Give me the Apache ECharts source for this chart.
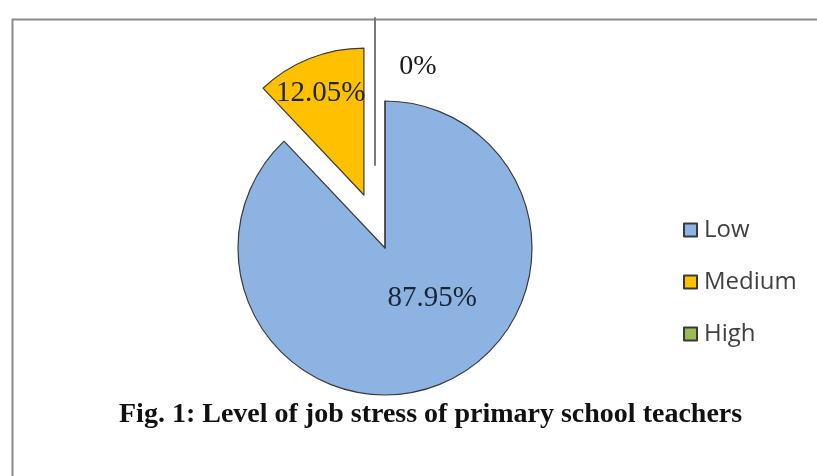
<!DOCTYPE html>
<html>
<head>
<meta charset="utf-8">
<script src="https://cdn.jsdelivr.net/npm/echarts@6/dist/echarts.min.js"></script>
<style>html,body{margin:0;padding:0;background:#fff;}#c{width:817px;height:476px;}</style>
</head>
<body>
<div id="c"></div>
<script>
// ---- data ----
const categories = ['Low', 'Medium', 'High'];
const values = [87.95, 12.05, 0];
const exploded = [false, true, false];
const colors = ['#8DB3E2', '#FFC000', '#9BBB59'];
const titleText = 'Fig. 1: Level of job stress of primary school teachers';

// label nudges (px) relative to the library's inside-label anchor
const mainLabelShift = [[19, -21], [-15, -31], [0, 0]];
const zeroLabelShift = [43, -22];

const chart = echarts.init(document.getElementById('c'));

const mainData = categories.map((n, i) => ({
  name: n,
  value: values[i],
  selected: exploded[i],
  itemStyle: { color: colors[i] },
  label: { show: values[i] > 0 }
}));

const zeroData = categories.map((n, i) => ({
  name: n,
  value: values[i],
  selected: values[i] === 0,
  itemStyle: values[i] === 0
    ? { color: colors[i], borderColor: '#7a7a7a', borderWidth: 2 }
    : { color: 'rgba(0,0,0,0)', borderWidth: 0 },
  label: { show: values[i] === 0 }
}));

const option = {
  animation: false,
  backgroundColor: '#ffffff',
  graphic: [{
    type: 'rect', left: 10, top: 17, z: -1,
    shape: { width: 820, height: 480 },
    style: { fill: 'none', stroke: '#8a8a8a', lineWidth: 2 }
  }],
  title: {
    text: titleText,
    left: 114, top: 396,
    textStyle: { fontFamily: 'Liberation Serif', fontWeight: 'bold', fontSize: 28, color: '#111' }
  },
  legend: {
    orient: 'vertical',
    left: 678, top: 213,
    itemWidth: 13, itemHeight: 13, itemGap: 28,
    icon: 'rect',
    data: categories,
    selectedMode: false,
    textStyle: { fontFamily: 'Open Sans', fontSize: 24, lineHeight: 22, color: '#404040', padding: [0, 0, 0, 2] }
  },
  series: [{
    type: 'pie',
    center: [385, 248],
    radius: 147,
    startAngle: 90,
    clockwise: true,
    selectedMode: 'multiple',
    selectedOffset: 57,
    silent: true,
    emphasis: { disabled: true },
    itemStyle: { borderColor: '#3a3a3a', borderWidth: 1.2 },
    label: {
      position: 'inside',
      formatter: p => p.value + '%',
      fontFamily: 'Liberation Serif', fontSize: 29, color: '#1c2533'
    },
    labelLine: { show: false },
    labelLayout: p => ({ dx: mainLabelShift[p.dataIndex][0], dy: mainLabelShift[p.dataIndex][1] }),
    data: mainData
  }, {
    type: 'pie',
    center: [375, 248],
    radius: 147,
    startAngle: 90,
    clockwise: true,
    selectedMode: 'multiple',
    selectedOffset: 83,
    silent: true,
    emphasis: { disabled: true },
    label: {
      position: 'inside',
      formatter: p => p.value + '%',
      fontFamily: 'Liberation Serif', fontSize: 28, color: '#1a1a1a'
    },
    labelLine: { show: false },
    labelLayout: () => ({ dx: zeroLabelShift[0], dy: zeroLabelShift[1] }),
    data: zeroData
  }]
};
chart.setOption(option);
</script>
</body>
</html>
